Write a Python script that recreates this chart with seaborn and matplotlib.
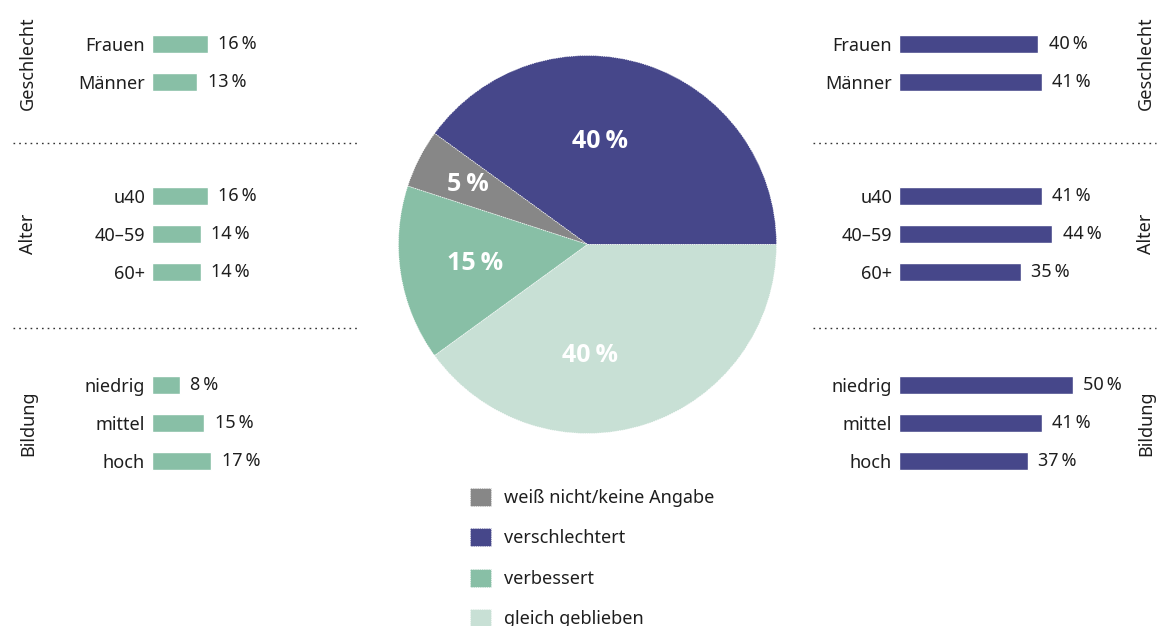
import matplotlib
matplotlib.use('Agg')
import matplotlib.pyplot as plt
from matplotlib.lines import Line2D
import seaborn as sns

# Daten
gruppen = ['Geschlecht', 'Alter', 'Bildung']
kategorien = [['Frauen', 'Männer'], ['u40', '40–59', '60+'], ['niedrig', 'mittel', 'hoch']]
verbessert = [[16, 13], [16, 14, 14], [8, 15, 17]]
verschlechtert = [[40, 41], [41, 44, 35], [50, 41, 37]]

pie_labels = ['verschlechtert', 'weiß nicht/keine Angabe', 'verbessert', 'gleich geblieben']
pie_values = [40, 5, 15, 40]
legend_order = [1, 0, 2, 3]

LILA = '#46478a'
GRUEN = '#88bfa6'
HELLGRUEN = '#c8e0d5'
GRAU = '#878787'
TEXT = '#1e1e1e'

sns.set_style('white')
plt.rcParams['font.family'] = ['Noto Sans', 'DejaVu Sans']
plt.rcParams['text.color'] = TEXT

W, H = 1157, 626
fig = plt.figure(figsize=(W / 100, H / 100), dpi=100)


def px_axes(x0, y0, w, h):
    return fig.add_axes([x0 / W, 1 - (y0 + h) / H, w / W, h / H])


PX_PRO_PROZENT = 3.48
ROW = 38
tops = [25, 177, 366]
label_y = [63, 234, 423]


def balken(x0, werte_liste, farbe, label_x):
    for g, (name, cats, werte) in enumerate(zip(gruppen, kategorien, werte_liste)):
        n = len(cats)
        ax = px_axes(x0, tops[g], 60 * PX_PRO_PROZENT, n * ROW)
        sns.barplot(x=werte, y=cats, ax=ax, color=farbe, saturation=1,
                    orient='h', width=0.49)
        ax.set_xlim(0, 60)
        ax.set_ylim(n - 0.5, -0.5)
        ax.set_xticks([])
        ax.set_xlabel('')
        ax.set_ylabel('')
        ax.tick_params(axis='y', length=0, pad=5, labelsize=13, labelcolor=TEXT)
        sns.despine(ax=ax, left=True, bottom=True)
        ax.patch.set_alpha(0)
        ax.bar_label(ax.containers[0], labels=[f'{v}\u2009%' for v in werte],
                     padding=7.5, fontsize=13, color=TEXT)
        fig.text(label_x / W, 1 - label_y[g] / H, name, rotation=90,
                 ha='center', va='center', fontsize=13, color=TEXT)


balken(152, verbessert, GRUEN, 28)
balken(899, verschlechtert, LILA, 1146)

# gepunktete Trennlinien
for y in [143, 328]:
    for xa, xb in [(13, 357), (813, 1156)]:
        fig.add_artist(Line2D([xa / W, xb / W], [1 - y / H] * 2, color='#333333',
                              linewidth=1.0, linestyle=(0, (1.2, 2.9))))

# Torte
R = 189
ax_pie = px_axes(587.5 - R, 244.5 - R, 2 * R, 2 * R)
wedges, _ = ax_pie.pie(pie_values, colors=[LILA, GRAU, GRUEN, HELLGRUEN],
                       startangle=0, counterclock=True, radius=1,
                       wedgeprops=dict(edgecolor='white', linewidth=0.6, linestyle=':'))
ax_pie.set_xlim(-1, 1)
ax_pie.set_ylim(-1, 1)
ax_pie.set_aspect('equal')
ax_pie.axis('off')

label_pos = [(0.065, 0.547), (-0.632, 0.316), (-0.594, -0.098), (0.013, -0.589)]
for v, (lx, ly) in zip(pie_values, label_pos):
    ax_pie.text(lx, ly, f'{v}\u2009%', ha='center', va='center', color='white',
                fontsize=18, fontweight='bold', family=['Open Sans', 'DejaVu Sans'])

fig.legend([wedges[i] for i in legend_order], [pie_labels[i] for i in legend_order],
           loc='upper left', bbox_to_anchor=(470 / W, 1 - 488 / H),
           bbox_transform=fig.transFigure, frameon=False, fontsize=13,
           handlelength=1.15, handleheight=1.15, handletextpad=0.75,
           labelspacing=1.18, borderpad=0, borderaxespad=0)

fig.savefig('out.png', dpi=100)
